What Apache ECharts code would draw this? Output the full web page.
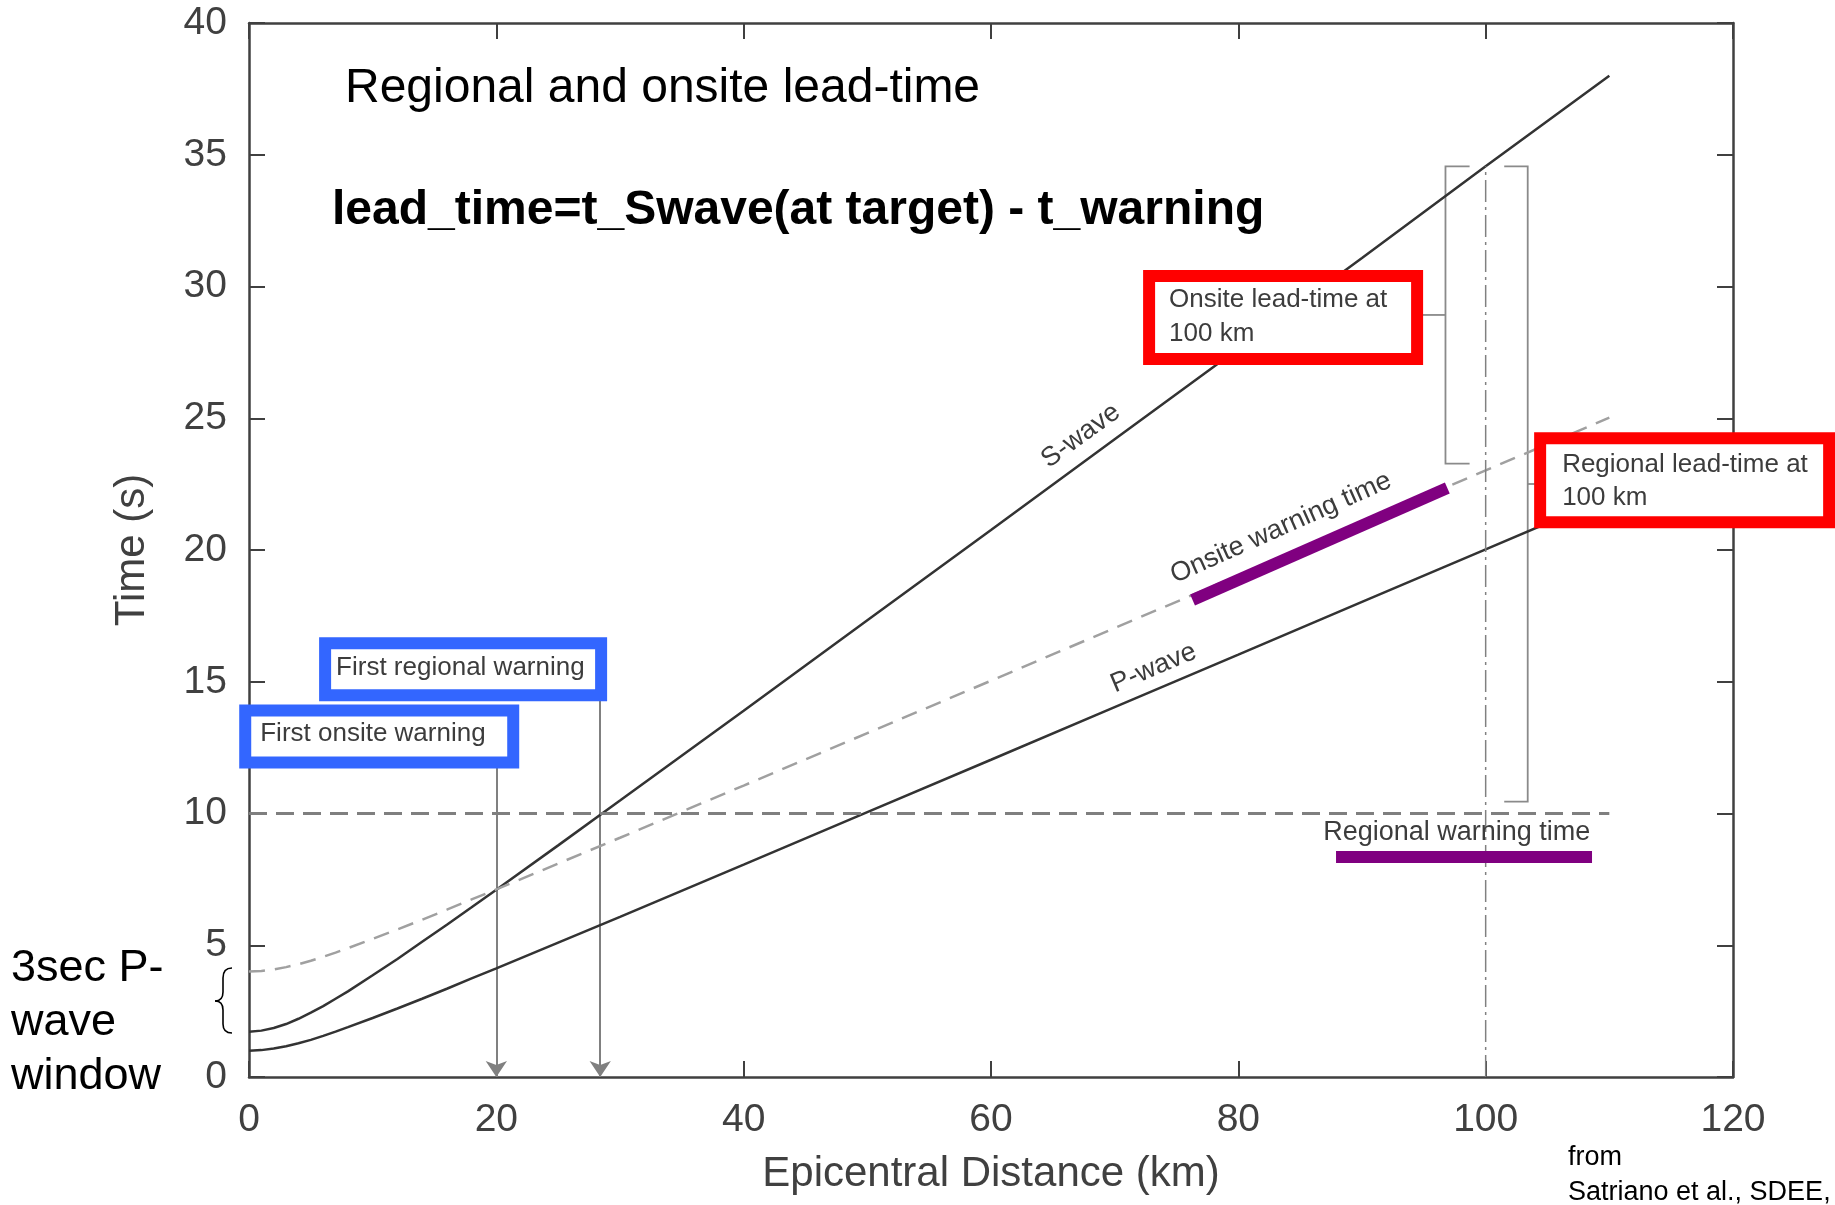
<!DOCTYPE html>
<html>
<head>
<meta charset="utf-8">
<title>Regional and onsite lead-time</title>
<script src="https://cdn.jsdelivr.net/npm/echarts@6.0.0/dist/echarts.min.js"></script>
<style>
	html, body { margin: 0; padding: 0; background: #fff; }
	#chart { width: 1835px; height: 1205px; }
</style>
</head>
<body>
<div id="chart"></div>
<script>
// tick labels of the two axes
var distTicks = [0, 20, 40, 60, 80, 100, 120];
var timeTicks = [0, 5, 10, 15, 20, 25, 30, 35, 40];

// epicentral distance (km) where the curves were read
var distance = [0, 1, 2, 3, 4, 5, 6, 7, 8, 10, 12, 14, 16, 18, 20, 25, 30, 40, 50, 60, 70, 80, 90, 100, 110];
// arrival / warning times (s)
var sWave = [1.72, 1.76, 1.86, 2.01, 2.21, 2.44, 2.69, 2.97, 3.25, 3.86, 4.48, 5.13, 5.78, 6.44, 7.11, 8.79, 10.49, 13.9, 17.33, 20.76, 24.2, 27.64, 31.08, 34.56, 38.0];
var pWave = [1.0, 1.02, 1.08, 1.17, 1.28, 1.41, 1.56, 1.72, 1.89, 2.24, 2.6, 2.97, 3.35, 3.74, 4.12, 5.1, 6.08, 8.06, 10.05, 12.04, 14.04, 16.03, 18.03, 20.02, 22.02];
var onsiteWarning = [4.0, 4.02, 4.08, 4.17, 4.28, 4.41, 4.56, 4.72, 4.89, 5.24, 5.6, 5.97, 6.35, 6.74, 7.12, 8.1, 9.08, 11.06, 13.05, 15.04, 17.04, 19.03, 21.03, 23.02, 25.02];

// regional warning time (s) and the distance span of its line (km)
var regionalWarning = 10;
var regionalSpan = [0, 110];
// target distance (km) and the S arrival there (s)
var targetDist = 100;
var targetS = 34.56;
// first warnings: distance (km) where the arrows drop
var firstOnsiteDist = 20;
var firstRegionalDist = 28.4;
// lead-time spans at 100 km (s): [warning, S arrival]
var onsiteLead = [23.28, 34.56];
var regionalLead = [10.45, 34.56];
// highlighted stretches (purple)
var onsiteHighlight = [[76.3, 18.1], [96.9, 22.35]];
var regionalHighlight = [[87.9, 8.36], [108.6, 8.36]];

var FONT = '"Liberation Sans", Arial, Helvetica, sans-serif';
var AXIS_COLOR = '#404040';
var GRAY_TEXT = '#3c3c3c';

function pairs(xs, ys) {
	var out = [];
	for (var i = 0; i < xs.length; i++) {
		out.push([xs[i], ys[i]]);
	}
	return out;
}

// text box drawn as a scatter label, top-left corner at [x, y]
function boxItem(x, y, text, color, pad, w, h, lh) {
	return {
		value : [x, y],
		label : {
			show : true,
			position : [0, 0],
			align : 'left',
			verticalAlign : 'top',
			formatter : text,
			color : GRAY_TEXT,
			fontSize : 26,
			fontFamily : FONT,
			lineHeight : lh,
			width : w,
			height : h,
			backgroundColor : '#fff',
			borderColor : color,
			borderWidth : 12,
			padding : pad
		}
	};
}

// text lying along a curve
function curveText(x, y, text, angle) {
	return {
		value : [x, y],
		label : {
			show : true,
			position : 'inside',
			rotate : angle,
			formatter : text,
			color : GRAY_TEXT,
			fontSize : 27,
			fontFamily : FONT
		}
	};
}

var chart = echarts.init(document.getElementById('chart'));

var tickStep = function(t) { return t[1] - t[0]; };

var xAxisBase = {
	type : 'value',
	min : distTicks[0],
	max : distTicks[distTicks.length - 1],
	interval : tickStep(distTicks),
	splitLine : { show : false },
	axisLine : { onZero : false, lineStyle : { color : AXIS_COLOR, width : 2.5 } },
	axisTick : { inside : true, length : 16, lineStyle : { color : AXIS_COLOR, width : 2 } }
};
var yAxisBase = {
	type : 'value',
	min : timeTicks[0],
	max : timeTicks[timeTicks.length - 1],
	interval : tickStep(timeTicks),
	splitLine : { show : false },
	axisLine : { onZero : false, lineStyle : { color : AXIS_COLOR, width : 2.5 } },
	axisTick : { inside : true, length : 16, lineStyle : { color : AXIS_COLOR, width : 2 } }
};

var onsiteX = 96.75, onsiteSerif = 98.7, onsiteStub = 94.9;
var regionalX = 103.4, regionalSerif = 101.5, regionalStub = 104.3;
var onsiteMid = (onsiteLead[0] + onsiteLead[1]) / 2;
var regionalMid = (regionalLead[0] + regionalLead[1]) / 2;

// curly brace beside the y axis, built from curve pieces
var braceStyle = { fill : 'none', stroke : '#000', lineWidth : 1.6 };
var brace = [
	{ type : 'bezierCurve', shape : { x1 : 232, y1 : 968, cpx1 : 223, cpy1 : 968, x2 : 223, y2 : 978 }, style : braceStyle },
	{ type : 'line', shape : { x1 : 223, y1 : 978, x2 : 223, y2 : 992 }, style : braceStyle },
	{ type : 'bezierCurve', shape : { x1 : 223, y1 : 992, cpx1 : 223, cpy1 : 1001, x2 : 215, y2 : 1001 }, style : braceStyle },
	{ type : 'bezierCurve', shape : { x1 : 215, y1 : 1001, cpx1 : 223, cpy1 : 1001, x2 : 223, y2 : 1010 }, style : braceStyle },
	{ type : 'line', shape : { x1 : 223, y1 : 1010, x2 : 223, y2 : 1024 }, style : braceStyle },
	{ type : 'bezierCurve', shape : { x1 : 223, y1 : 1024, cpx1 : 223, cpy1 : 1033, x2 : 232, y2 : 1033 }, style : braceStyle }
];

var option = {
	animation : false,
	backgroundColor : '#fff',
	grid : {
		left : 249,
		right : 102,
		top : 23,
		bottom : 128,
		containLabel : false,
		outerBoundsMode : 'none'
	},
	xAxis : [
		echarts.util.merge({
			position : 'bottom',
			name : 'Epicentral Distance (km)',
			nameLocation : 'middle',
			nameGap : 76,
			nameMoveOverlap : false,
			nameTextStyle : { color : AXIS_COLOR, fontSize : 42, fontFamily : FONT },
			axisLabel : { color : AXIS_COLOR, fontSize : 39, fontFamily : FONT, margin : 24 }
		}, xAxisBase, false),
		echarts.util.merge({
			position : 'top',
			axisLabel : { show : false }
		}, xAxisBase, false)
	],
	yAxis : [
		echarts.util.merge({
			position : 'left',
			name : 'Time (s)',
			nameLocation : 'middle',
			nameGap : 96,
			nameMoveOverlap : false,
			nameTextStyle : { color : AXIS_COLOR, fontSize : 42, fontFamily : FONT },
			axisLabel : { color : AXIS_COLOR, fontSize : 39, fontFamily : FONT, margin : 22 }
		}, yAxisBase, false),
		echarts.util.merge({
			position : 'right',
			axisLabel : { show : false }
		}, yAxisBase, false)
	],
	graphic : [
		{
			type : 'text', x : 345, y : 89,
			style : { text : 'Regional and onsite lead-time', fontSize : 48, fontFamily : FONT, fill : '#000', verticalAlign : 'middle' }
		},
		{
			type : 'text', x : 332, y : 211,
			style : { text : 'lead_time=t_Swave(at target) - t_warning', fontSize : 48, fontWeight : 'bold', fontFamily : FONT, fill : '#000', verticalAlign : 'middle' }
		},
		{
			type : 'text', x : 11, y : 942,
			style : { text : '3sec P-\nwave\nwindow', fontSize : 45, lineHeight : 54, fontFamily : FONT, fill : '#000', verticalAlign : 'top' }
		},
		{
			type : 'text', x : 1568, y : 1140,
			style : { text : 'from\nSatriano et al., SDEE, 2011', fontSize : 27, lineHeight : 35, fontFamily : FONT, fill : '#000', verticalAlign : 'top' }
		}
	].concat(brace),
	series : [
		{
			name : 'S-wave',
			type : 'line',
			data : pairs(distance, sWave),
			showSymbol : false,
			silent : true,
			lineStyle : { color : '#333', width : 2.5 }
		},
		{
			name : 'P-wave',
			type : 'line',
			data : pairs(distance, pWave),
			showSymbol : false,
			silent : true,
			lineStyle : { color : '#333', width : 2.5 }
		},
		{
			name : 'Onsite warning time',
			type : 'line',
			data : pairs(distance, onsiteWarning),
			showSymbol : false,
			silent : true,
			lineStyle : { color : '#a0a0a0', width : 2.5, type : [16, 10] }
		},
		{
			name : 'Regional warning time',
			type : 'line',
			data : [[regionalSpan[0], regionalWarning], [regionalSpan[1], regionalWarning]],
			showSymbol : false,
			silent : true,
			lineStyle : { color : '#7f7f7f', width : 3, type : [18, 9] }
		},
		{
			name : 'target',
			type : 'line',
			data : [[targetDist, 0], [targetDist, targetS]],
			showSymbol : false,
			silent : true,
			lineStyle : { color : '#808080', width : 1.5, type : [22, 5, 3, 5] }
		},
		{
			name : 'arrows',
			type : 'lines',
			coordinateSystem : 'cartesian2d',
			silent : true,
			symbol : ['none', 'arrow'],
			symbolSize : [13, 16],
			lineStyle : { color : '#808080', width : 2, opacity : 1 },
			data : [
				{ coords : [[firstOnsiteDist, 13.6], [firstOnsiteDist, 0]] },
				{ coords : [[firstRegionalDist, 16.0], [firstRegionalDist, 0]] }
			]
		},
		{
			name : 'brackets',
			type : 'lines',
			coordinateSystem : 'cartesian2d',
			polyline : true,
			silent : true,
			lineStyle : { color : '#8a8a8a', width : 1.8, opacity : 1 },
			data : [
				{ coords : [[onsiteSerif, onsiteLead[1]], [onsiteX, onsiteLead[1]], [onsiteX, onsiteLead[0]], [onsiteSerif, onsiteLead[0]]] },
				{ coords : [[onsiteX, onsiteMid], [onsiteStub, onsiteMid]] },
				{ coords : [[regionalSerif, regionalLead[1]], [regionalX, regionalLead[1]], [regionalX, regionalLead[0]], [regionalSerif, regionalLead[0]]] },
				{ coords : [[regionalX, regionalMid], [regionalStub, regionalMid]] }
			]
		},
		{
			name : 'highlight',
			type : 'lines',
			coordinateSystem : 'cartesian2d',
			silent : true,
			z : 5,
			lineStyle : { color : '#800080', width : 12, opacity : 1, cap : 'butt' },
			data : [
				{ coords : onsiteHighlight },
				{ coords : regionalHighlight }
			]
		},
		{
			name : 'labels',
			type : 'scatter',
			symbolSize : 1,
			silent : true,
			z : 10,
			itemStyle : { color : 'rgba(0,0,0,0)', opacity : 1 },
			data : [
				curveText(67.26, 24.33, 'S-wave', 36),
				curveText(73.15, 15.52, 'P-wave', 23),
				curveText(83.45, 20.84, 'Onsite warning time', 24),
				curveText(97.66, 9.26, 'Regional warning time', 0),
				boxItem(73.31, 30.15, 'Onsite lead-time at\n100 km', '#ff0000', [1, 6, 2, 14], 236, 68, 34),
				boxItem(104.93, 23.99, 'Regional lead-time at\n100 km', '#ff0000', [4, 6, 2, 16], 255, 66, 33),
				boxItem(6.68, 16.21, 'First regional warning', '#3366ff', [3, 4, 7, 5], 255, 30, 30),
				boxItem(0.22, 13.66, 'First onsite warning', '#3366ff', [2, 4, 8, 9], 243, 30, 30)
			]
		}
	]
};

chart.setOption(option);
</script>
</body>
</html>
